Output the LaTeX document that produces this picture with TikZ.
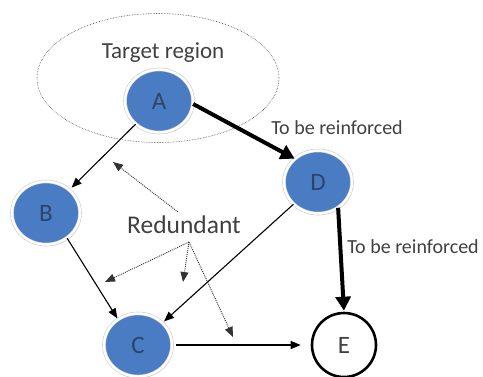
\documentclass[tikz,border=0pt]{standalone}
\usepackage{fontspec}
\setmainfont{Carlito}
\usetikzlibrary{arrows.meta,shapes.geometric,shadows}
\definecolor{nodeblue}{HTML}{4A7CC4}
\definecolor{lettercol}{HTML}{2C4568}
\definecolor{textcol}{HTML}{404040}
\tikzset{
  vertex/.style={ellipse, inner sep=0pt, minimum width=68pt, minimum height=63pt,
    fill=nodeblue, draw=gray!40, line width=0.6pt, double=white, double distance=2.4pt,
    drop shadow={shadow xshift=1.2pt, shadow yshift=-1.6pt, fill=gray!45},
    text=lettercol, font=\fontsize{25}{28}\selectfont},
  target/.style={circle, inner sep=0pt, minimum size=64pt, draw=black, line width=2.6pt,
    fill=white, text=textcol, font=\fontsize{25}{28}\selectfont},
  thinarrow/.style={-{Triangle[length=10pt,width=8pt]}, line width=1.1pt, black},
  thickarrow/.style={-{Triangle[length=14pt,width=15pt]}, line width=4pt, black},
  dotarrow/.style={-{Triangle[length=10pt,width=8pt]}, line width=0.9pt, black!80,
    dash pattern=on 1pt off 1pt},
  caption/.style={text=textcol, inner sep=0pt},
}
\begin{document}
\begin{tikzpicture}[x=1pt,y=-1pt]
\useasboundingbox (0,0) rectangle (483,376);

% dotted target region
\node[ellipse, draw=black!70, densely dotted, line width=0.6pt, minimum width=242pt,
  minimum height=129pt, inner sep=0pt] (region) at (158,78) {};
\node[caption, font=\fontsize{23}{26}\selectfont] (regionlabel) at (163,53) {Target region};

% graph nodes
\node[vertex] (A) at (159,101) {A};
\node[vertex] (B) at (46,213) {B};
\node[vertex] (D) at (318,182) {D};
\node[vertex] (C) at (138,345) {C};
\node[target] (E) at (344,345) {E};

% thin edges
\draw[thinarrow, shorten >=3pt] (A) -- (B);
\draw[thinarrow, shorten >=1pt] (B.-50) -- (C.128);
\draw[thinarrow, shorten >=2pt] (D) -- (C);
\draw[thinarrow, shorten <=4pt, shorten >=10pt] (C.east) -- (E.west);

% edges to be reinforced
\draw[thickarrow] (A.-5) -- (D.135);
\draw[thickarrow, shorten >=1pt] (D.-52) -- (E.north);
\node[caption, font=\fontsize{20}{24}\selectfont] (lab1) at (337,128) {To be reinforced};
\node[caption, font=\fontsize{20}{24}\selectfont] (lab2) at (413,247) {To be reinforced};

% redundant markers
\node[caption, font=\fontsize{25.5}{28}\selectfont] (red) at (184,225) {Redundant};
\coordinate (r1) at (178,212);
\coordinate (r2) at (189,242);
\coordinate (t1) at (113,162);
\coordinate (t2) at (105,282);
\coordinate (t3) at (183,282);
\coordinate (t4) at (233,337);
\draw[dotarrow] (r1) -- (t1);
\draw[dotarrow] (r2) -- (t2);
\draw[dotarrow] (r2) -- (t3);
\draw[dotarrow] (r2) -- (t4);
\end{tikzpicture}
\end{document}
